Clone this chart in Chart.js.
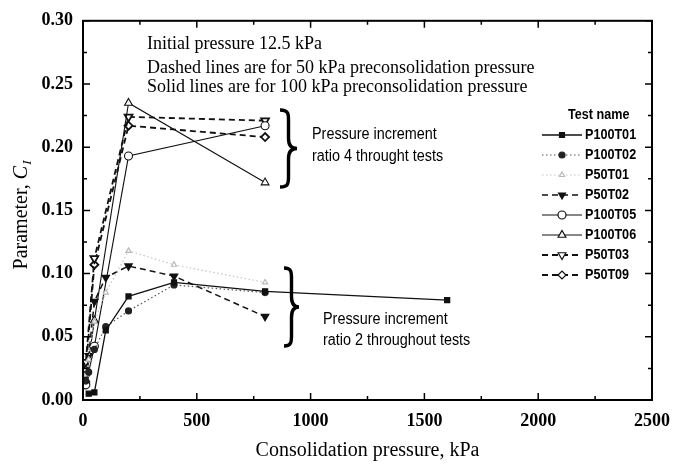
<!DOCTYPE html>
<html>
<head>
<meta charset="utf-8">
<script src="https://cdn.jsdelivr.net/npm/chart.js@4.4.1/dist/chart.umd.min.js"></script>
<style>
  html, body { margin: 0; padding: 0; background: #fff; }
</style>
</head>
<body>
<canvas id="myChart" width="681" height="465"></canvas>
<script>
// pressures (kPa) at which C was measured
let ratio2Pressure = [12.5, 25, 50, 100, 200, 400, 800, 1600];
let ratio4Pressure = [12.5, 50, 200, 800];

// pressure increment ratio 2 tests
let p100t01 = [null, 0.005, 0.006, 0.055, 0.082, 0.093, 0.086, 0.079];
let p100t02 = [0.015, 0.022, 0.040, 0.058, 0.0705, 0.091, 0.085, null];
let p50t01 = [0.020, 0.032, 0.062, 0.085, 0.118, 0.107, 0.093, null];
let p50t02 = [0.018, 0.035, 0.078, 0.097, 0.106, 0.098, 0.066, null];

// pressure increment ratio 4 tests
let p100t05 = [0.012, 0.0425, 0.193, 0.217];
let p100t06 = [0.016, 0.063, 0.235, 0.172];
let p50t03 = [0.030, 0.112, 0.224, 0.221];
let p50t09 = [0.024, 0.107, 0.217, 0.208];

let xTicks = [0, 500, 1000, 1500, 2000, 2500];
let yTicks = [0, 0.05, 0.10, 0.15, 0.20, 0.25, 0.30];

const serif = "'Liberation Serif', 'Times New Roman', serif";
const sans = "'Liberation Sans', Arial, sans-serif";

function pts(xs, ys) {
  return xs.map((x, i) => ({ x: x, y: ys[i] })).filter(p => p.y !== null);
}

let ctx = document.getElementById("myChart");

// text in a narrow face: squeeze Liberation Sans horizontally
function narrowText(c, text, x, y, sx) {
  c.save();
  c.translate(x, y);
  c.scale(sx, 1);
  c.fillText(text, 0, 0);
  c.restore();
}

function drawBrace(c, x, top, bottom, w) {
  let mid = (top + bottom) / 2, h = bottom - top;
  c.beginPath();
  c.moveTo(x, top);
  c.bezierCurveTo(x + w * 0.55, top, x + w * 0.5, top + h * 0.06, x + w * 0.5, top + h * 0.18);
  c.lineTo(x + w * 0.5, mid - h * 0.13);
  c.bezierCurveTo(x + w * 0.5, mid - h * 0.03, x + w * 0.7, mid, x + w, mid);
  c.bezierCurveTo(x + w * 0.7, mid, x + w * 0.5, mid + h * 0.03, x + w * 0.5, mid + h * 0.13);
  c.lineTo(x + w * 0.5, bottom - h * 0.18);
  c.bezierCurveTo(x + w * 0.5, bottom - h * 0.06, x + w * 0.55, bottom, x, bottom);
  c.lineWidth = 3.4;
  c.strokeStyle = "#000";
  c.setLineDash([]);
  c.stroke();
}

const decor = {
  id: "decor",
  afterDraw(chart) {
    let c = chart.ctx;
    let a = chart.chartArea;
    let xs = chart.scales.x, ys = chart.scales.y;
    c.save();
    c.strokeStyle = "#000";
    c.fillStyle = "#000";
    c.setLineDash([]);

    // frame
    c.lineWidth = 2;
    c.strokeRect(a.left, a.top, a.right - a.left, a.bottom - a.top);

    // inward ticks, major + minor
    c.lineWidth = 1.5;
    for (let v = 0; v <= 2500; v += 250) {
      let px = xs.getPixelForValue(v);
      let len = v % 500 === 0 ? 7 : 4;
      c.beginPath();
      c.moveTo(px, a.bottom); c.lineTo(px, a.bottom - len);
      c.moveTo(px, a.top); c.lineTo(px, a.top + len);
      c.stroke();
    }
    for (let k = 0; k <= 12; k++) {
      let py = ys.getPixelForValue(k * 0.025);
      let len = k % 2 === 0 ? 7 : 4;
      c.beginPath();
      c.moveTo(a.left, py); c.lineTo(a.left + len, py);
      c.moveTo(a.right, py); c.lineTo(a.right - len, py);
      c.stroke();
    }

    // notes at the top
    c.font = "18px " + serif;
    c.textAlign = "left";
    c.textBaseline = "middle";
    c.fillText("Initial pressure 12.5 kPa", 147, 44);
    c.fillText("Dashed lines are for 50 kPa preconsolidation pressure", 147, 68);
    c.fillText("Solid lines are for 100 kPa preconsolidation pressure", 147, 87);

    // braces with notes
    drawBrace(c, 280, 110, 187, 17);
    drawBrace(c, 284, 268, 346, 15);
    c.font = "16px " + sans;
    narrowText(c, "Pressure increment", 312, 135, 0.9);
    narrowText(c, "ratio 4 throught tests", 312, 157, 0.9);
    narrowText(c, "Pressure increment", 323, 320, 0.9);
    narrowText(c, "ratio 2 throughout tests", 323, 341, 0.9);

    // legend
    c.font = "bold 15px " + sans;
    narrowText(c, "Test name", 568, 115, 0.84);
    chart.data.datasets.forEach((ds, i) => {
      let y = 135 + 20 * i;
      c.save();
      c.strokeStyle = ds.borderColor;
      c.lineWidth = ds.borderWidth;
      c.setLineDash(ds.borderDash || []);
      c.beginPath();
      c.moveTo(542, y); c.lineTo(582, y);
      c.stroke();
      c.setLineDash([]);
      c.fillStyle = ds.pointBackgroundColor;
      c.strokeStyle = ds.pointBorderColor;
      c.lineWidth = 1.2;
      Chart.helpers.drawPoint(c, {
        pointStyle: ds.pointStyle,
        rotation: ds.pointRotation || 0,
        radius: ds.pointRadius,
        borderWidth: 1.2
      }, 562, y);
      c.restore();
      c.fillStyle = "#000";
      narrowText(c, ds.label, 585, y, 0.84);
    });

    // y axis title with subscript
    c.save();
    c.translate(20, 215);
    c.rotate(-Math.PI / 2);
    let t1 = "Parameter, ";
    c.font = "20px " + serif;
    let w1 = c.measureText(t1).width;
    c.font = "italic 20px " + serif;
    let w2 = c.measureText("C").width;
    c.font = "italic 13px " + serif;
    let w3 = c.measureText("I").width;
    let x0 = -(w1 + w2 + w3 + 1) / 2;
    c.textBaseline = "alphabetic";
    c.font = "20px " + serif;
    c.fillText(t1, x0, 7);
    c.font = "italic 20px " + serif;
    c.fillText("C", x0 + w1, 7);
    c.font = "italic 13px " + serif;
    c.fillText("I", x0 + w1 + w2 + 1, 11);
    c.restore();

    c.restore();
  }
};

let chartt = new Chart(ctx, {
  type: "scatter",
  data: {
    datasets: [
      {
        label: "P100T01", data: pts(ratio2Pressure, p100t01), showLine: true,
        borderColor: "#111", borderWidth: 1.3,
        pointStyle: "rect", pointRadius: 3.5,
        pointBackgroundColor: "#111", pointBorderColor: "#111"
      },
      {
        label: "P100T02", data: pts(ratio2Pressure, p100t02), showLine: true,
        borderColor: "#555", borderWidth: 1.2, borderDash: [1.5, 2.5],
        pointStyle: "circle", pointRadius: 3,
        pointBackgroundColor: "#222", pointBorderColor: "#222"
      },
      {
        label: "P50T01", data: pts(ratio2Pressure, p50t01), showLine: true,
        borderColor: "#c4c4c4", borderWidth: 1.2, borderDash: [1.5, 2.5],
        pointStyle: "triangle", pointRadius: 3,
        pointBackgroundColor: "#fff", pointBorderColor: "#b8b8b8"
      },
      {
        label: "P50T02", data: pts(ratio2Pressure, p50t02), showLine: true,
        borderColor: "#111", borderWidth: 1.5, borderDash: [6, 4],
        pointStyle: "triangle", pointRotation: 180, pointRadius: 4,
        pointBackgroundColor: "#111", pointBorderColor: "#111"
      },
      {
        label: "P100T05", data: pts(ratio4Pressure, p100t05), showLine: true,
        borderColor: "#111", borderWidth: 1.1,
        pointStyle: "circle", pointRadius: 4,
        pointBackgroundColor: "#fff", pointBorderColor: "#111"
      },
      {
        label: "P100T06", data: pts(ratio4Pressure, p100t06), showLine: true,
        borderColor: "#111", borderWidth: 1.1,
        pointStyle: "triangle", pointRadius: 4.5,
        pointBackgroundColor: "#fff", pointBorderColor: "#111"
      },
      {
        label: "P50T03", data: pts(ratio4Pressure, p50t03), showLine: true,
        borderColor: "#111", borderWidth: 1.8, borderDash: [6, 4],
        pointStyle: "triangle", pointRotation: 180, pointRadius: 4.5,
        pointBackgroundColor: "#fff", pointBorderColor: "#111"
      },
      {
        label: "P50T09", data: pts(ratio4Pressure, p50t09), showLine: true,
        borderColor: "#111", borderWidth: 1.8, borderDash: [6, 4],
        pointStyle: "rectRot", pointRadius: 4,
        pointBackgroundColor: "#fff", pointBorderColor: "#111"
      }
    ]
  },
  options: {
    responsive: false,
    animation: false,
    devicePixelRatio: 1,
    layout: { padding: { top: 17, right: 18, left: 0, bottom: 0 } },
    plugins: {
      legend: { display: false },
      tooltip: { enabled: false }
    },
    elements: { line: { tension: 0 }, point: { borderWidth: 1.2 } },
    scales: {
      x: {
        type: "linear", min: 0, max: 2500,
        afterFit: s => { s.height = 65; },
        afterBuildTicks: s => { s.ticks = xTicks.map(v => ({ value: v })); },
        grid: { display: false, drawTicks: false },
        border: { display: false },
        ticks: {
          color: "#000", padding: 11, font: { family: serif, size: 18, weight: "bold" },
          callback: v => String(v)
        },
        title: {
          display: true, text: "Consolidation pressure, kPa", color: "#000",
          font: { family: serif, size: 20 }, padding: { top: 0, bottom: 2 }
        }
      },
      y: {
        type: "linear", min: 0, max: 0.3,
        afterFit: s => { s.width = 83; },
        afterBuildTicks: s => { s.ticks = yTicks.map(v => ({ value: v })); },
        grid: { display: false, drawTicks: false },
        border: { display: false },
        ticks: {
          color: "#000", padding: 10, font: { family: serif, size: 18, weight: "bold" },
          callback: v => v.toFixed(2)
        }
      }
    }
  },
  plugins: [decor]
});
</script>
</body>
</html>
